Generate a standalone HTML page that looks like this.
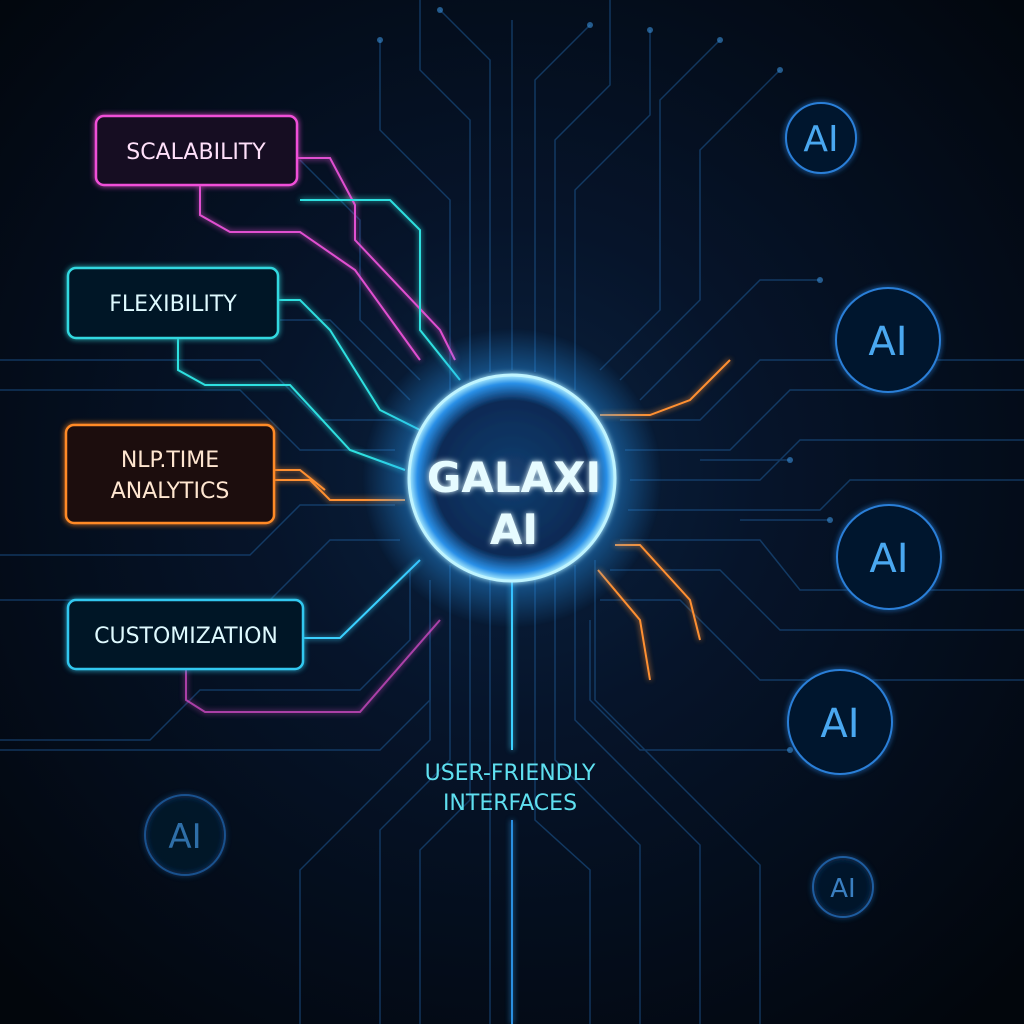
<!DOCTYPE html>
<html><head><meta charset="utf-8"><style>
html,body{margin:0;padding:0;background:#040a14;}
body{width:1024px;height:1024px;overflow:hidden;position:relative;font-family:"DejaVu Sans","Liberation Sans",sans-serif;}
svg{position:absolute;left:0;top:0}
text{font-family:"DejaVu Sans","Liberation Sans",sans-serif;}
</style></head><body>
<svg width="1024" height="1024" viewBox="0 0 1024 1024">
<defs>
<radialGradient id="bg" cx="50%" cy="46%" r="70%">
<stop offset="0" stop-color="#0a2240"/><stop offset="0.35" stop-color="#06142a"/><stop offset="1" stop-color="#02060c"/>
</radialGradient>
<radialGradient id="orb" cx="50%" cy="50%" r="50%">
<stop offset="0" stop-color="#143f70"/><stop offset="0.75" stop-color="#0b2a55"/><stop offset="0.92" stop-color="#2a90e8"/><stop offset="1" stop-color="#b0f0ff"/>
</radialGradient>
<radialGradient id="halo" cx="50%" cy="50%" r="50%">
<stop offset="0.6" stop-color="#2aa0ff" stop-opacity="0.55"/><stop offset="1" stop-color="#2aa0ff" stop-opacity="0"/>
</radialGradient>
<filter id="gl" x="-50%" y="-50%" width="200%" height="200%"><feGaussianBlur stdDeviation="3" result="b"/><feMerge><feMergeNode in="b"/><feMergeNode in="SourceGraphic"/></feMerge></filter>
</defs>
<rect width="1024" height="1024" fill="url(#bg)"/>
<g fill="none" stroke="#1e5a95" stroke-width="1.5" opacity="0.55">
<path d="M512 370V20M490 372V60L440 10M535 372V80L590 25M470 380V120L420 70V0M555 380V140L610 85V0M450 390V200L380 130V40M575 390V190L650 115V30"/>
<path d="M620 420H700L760 360H1024M625 450H730L790 390H1024M630 480H760L800 440H1024M628 510H820L850 480H1024M620 540H760L800 590H1024M610 570H720L780 630H1024M600 600H680L760 680H1024M590 620V700L640 750H790"/>
<path d="M400 420H320L260 360H0M395 450H300L240 390H0M395 505H300L250 555H0M400 540H330L270 600H0M410 570V640L360 690H200L150 740H0M430 590V700L380 750H0"/>
<path d="M490 580V1024M470 575V800L420 850V1024M450 565V760L380 830V1024M535 580V820L590 870V1024M555 575V760L640 845V1024M575 565V720L700 845V1024M430 580V740L300 870V1024M595 560V700L760 865V1024"/>
<path d="M620 380L700 300V150L780 70M600 370L660 310V100L720 40M640 400L760 280H820M420 380L360 320V220L300 160M410 400L330 320H280M700 460H790M740 520H830"/>
</g>
<g fill="#3a8fd8" opacity="0.6">
<circle cx="780" cy="70" r="3"/><circle cx="720" cy="40" r="3"/><circle cx="440" cy="10" r="3"/><circle cx="590" cy="25" r="3"/><circle cx="380" cy="40" r="3"/><circle cx="650" cy="30" r="3"/><circle cx="790" cy="750" r="3"/><circle cx="820" cy="280" r="3"/><circle cx="790" cy="460" r="3"/><circle cx="830" cy="520" r="3"/>
</g>
<g fill="none" stroke-width="2" filter="url(#gl)">
<path d="M297 158H330L355 205V240L440 330L455 360" stroke="#e050d0"/>
<path d="M200 185V215L230 232H300L355 270L420 360" stroke="#e050d0"/>
<path d="M300 200H390L420 230V330L460 380" stroke="#2fe0e0"/>
<path d="M278 300H300L330 330L380 410L420 430" stroke="#2fe0e0"/>
<path d="M178 338V370L205 385H290L350 450L405 470" stroke="#2fe0e0"/>
<path d="M274 480H310L330 500H405" stroke="#ff9030"/>
<path d="M274 470H300L325 490" stroke="#ff9030"/>
<path d="M303 638H340L420 560" stroke="#3ad0ff"/>
<path d="M186 669V700L205 712H360L440 620" stroke="#e050d0" opacity="0.7"/>
<path d="M600 415H650L690 400L730 360" stroke="#ff9030"/>
<path d="M598 570L640 620L650 680" stroke="#ff9030"/>
<path d="M615 545H640L690 600L700 640" stroke="#ff9030"/>
<path d="M512 580V750" stroke="#3ad0ff"/>
<path d="M512 820V1024" stroke="#2a8fe0"/>
</g>
<circle cx="512" cy="478" r="150" fill="url(#halo)"/>
<circle cx="512" cy="478" r="103" fill="url(#orb)" stroke="#bff4ff" stroke-width="3" filter="url(#gl)"/>
<text x="514" y="492" text-anchor="middle" font-size="42" font-weight="bold" fill="#e6fbff" filter="url(#gl)">GALAXI</text>
<text x="514" y="544" text-anchor="middle" font-size="42" font-weight="bold" fill="#e6fbff" filter="url(#gl)">AI</text>
<g filter="url(#gl)" stroke-width="2.5">
<rect x="96" y="116" width="201" height="69" rx="8" fill="#120a22" stroke="#f050d8"/>
<rect x="68" y="268" width="210" height="70" rx="8" fill="#061828" stroke="#30d8e0"/>
<rect x="66" y="425" width="208" height="98" rx="8" fill="#1a0f10" stroke="#ff8a28"/>
<rect x="68" y="600" width="235" height="69" rx="8" fill="#061828" stroke="#30c8f0"/>
</g>
<g font-size="22" fill="#dffaff" text-anchor="middle">
<text x="196" y="159" fill="#ffe0fa">SCALABILITY</text>
<text x="173" y="311">FLEXIBILITY</text>
<text x="170" y="467" fill="#ffe6d0">NLP.TIME</text>
<text x="170" y="498" fill="#ffe6d0">ANALYTICS</text>
<text x="186" y="643">CUSTOMIZATION</text>
<text x="510" y="780" fill="#5fe0f0">USER-FRIENDLY</text>
<text x="510" y="810" fill="#5fe0f0">INTERFACES</text>
</g>
<g fill="#06182f" stroke="#2a7fd8" stroke-width="2" filter="url(#gl)">
<circle cx="821" cy="138" r="35"/>
<circle cx="888" cy="340" r="52"/>
<circle cx="889" cy="557" r="52"/>
<circle cx="840" cy="722" r="52"/>
<circle cx="185" cy="835" r="40" opacity="0.5"/>
<circle cx="843" cy="887" r="30" opacity="0.6"/>
</g>
<g fill="#4aa8f0" text-anchor="middle">
<text x="821" y="151" font-size="36">AI</text>
<text x="888" y="355" font-size="40">AI</text>
<text x="889" y="572" font-size="40">AI</text>
<text x="840" y="737" font-size="40">AI</text>
<text x="185" y="848" font-size="34" fill="#2f6fa8">AI</text>
<text x="843" y="897" font-size="26" fill="#3a7fc0">AI</text>
</g>
</svg>
</body></html>
